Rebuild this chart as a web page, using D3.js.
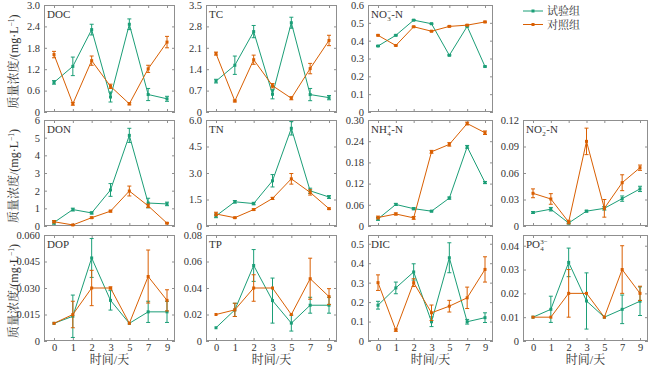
<!DOCTYPE html>
<html><head><meta charset="utf-8">
<script src="https://cdn.jsdelivr.net/npm/d3@7"></script>
<style>body{margin:0;background:#fff}svg{display:block}</style>
</head><body><svg id="c" width="650" height="367"></svg>
<script>
const days = ["0","1","2","3","5","7","9"];
const seriesNames = ["试验组","对照组"];
const colors = ["#1b9e77","#d95f02"];
const xLabel = "时间/天";

const docTest = [0.83,1.28,2.31,0.42,2.46,0.49,0.37];
const docTestErr = [0.05,0.26,0.15,0.14,0.15,0.17,0.07];
const docCtrl = [1.61,0.23,1.44,0.72,0.23,1.21,1.96];
const docCtrlErr = [0.09,0.04,0.13,0.06,0.03,0.1,0.16];
const docTicks = ["0","0.6","1.2","1.8","2.4","3.0"];

const tcTest = [1.01,1.53,2.63,0.58,2.92,0.57,0.47];
const tcTestErr = [0.06,0.3,0.2,0.15,0.18,0.2,0.07];
const tcCtrl = [1.91,0.36,1.71,0.86,0.45,1.42,2.34];
const tcCtrlErr = [0.05,0.03,0.15,0.07,0.05,0.17,0.17];
const tcTicks = ["0","0.7","1.4","2.1","2.8","3.5"];

const no3Test = [0.37,0.43,0.515,0.495,0.318,0.48,0.255];
const no3TestErr = [0.003,0.003,0.003,0.003,0.003,0.003,0.003];
const no3Ctrl = [0.43,0.373,0.478,0.453,0.48,0.487,0.505];
const no3CtrlErr = [0.003,0.003,0.003,0.003,0.003,0.003,0.004];
const no3Ticks = ["0","0.1","0.2","0.3","0.4","0.5","0.6"];

const donTest = [0.2,0.93,0.74,2.04,5.13,1.3,1.25];
const donTestErr = [0.1,0.08,0.06,0.36,0.4,0.27,0.1];
const donCtrl = [0.24,0.06,0.47,0.84,1.98,1.14,0.16];
const donCtrlErr = [0.06,0.02,0.04,0.05,0.28,0.1,0.03];
const donTicks = ["0","1","2","3","4","5","6"];

const tnTest = [0.57,1.37,1.27,2.56,5.53,1.99,1.64];
const tnTestErr = [0.1,0.07,0.07,0.35,0.38,0.15,0.08];
const tnCtrl = [0.68,0.47,0.93,1.56,2.67,1.9,0.98];
const tnCtrlErr = [0.1,0.03,0.04,0.06,0.3,0.15,0.04];
const tnTicks = ["0","1.5","3.0","4.5","6.0"];

const nh4Test = [0.02,0.061,0.049,0.042,0.079,0.224,0.123];
const nh4TestErr = [0.004,0.003,0.003,0.002,0.003,0.004,0.003];
const nh4Ctrl = [0.024,0.034,0.023,0.21,0.231,0.29,0.264];
const nh4CtrlErr = [0.004,0.003,0.004,0.004,0.005,0.004,0.005];
const nh4Ticks = ["0","0.06","0.12","0.18","0.24","0.30"];

const no2Test = [0.0153,0.019,0.0034,0.0168,0.02,0.031,0.042];
const no2TestErr = [0.001,0.002,0.001,0.001,0.002,0.003,0.003];
const no2Ctrl = [0.037,0.0306,0.0045,0.0958,0.02,0.049,0.066];
const no2CtrlErr = [0.005,0.006,0.002,0.015,0.01,0.009,0.003];
const no2Ticks = ["0","0.03","0.06","0.09","0.12"];

const dopTest = [0.01,0.014,0.047,0.023,0.01,0.0165,0.0165];
const dopTestErr = [0,0.012,0.011,0.0055,0,0.006,0.006];
const dopCtrl = [0.01,0.015,0.03,0.03,0.01,0.0365,0.023];
const dopCtrlErr = [0,0.0075,0.01,0.0006,0,0.015,0.006];
const dopTicks = ["0","0.015","0.030","0.045","0.060"];

const tpTest = [0.01,0.0235,0.057,0.0305,0.0135,0.027,0.027];
const tpTestErr = [0,0.005,0.012,0.017,0.006,0.006,0.006];
const tpCtrl = [0.02,0.0235,0.04,0.04,0.02,0.047,0.0335];
const tpCtrlErr = [0,0.005,0.01,0,0,0.0155,0.006];
const tpTicks = ["0","0.02","0.04","0.06","0.08"];

const dicTest = [0.184,0.273,0.355,0.099,0.428,0.099,0.12];
const dicTestErr = [0.02,0.03,0.042,0.025,0.077,0.012,0.025];
const dicCtrl = [0.30,0.056,0.30,0.145,0.179,0.222,0.368];
const dicCtrlErr = [0.04,0.006,0.02,0.04,0.03,0.055,0.065];
const dicTicks = ["0","0.1","0.2","0.3","0.4","0.5"];

const po4Test = [0.01,0.0133,0.033,0.0168,0.01,0.0133,0.0167];
const po4TestErr = [0,0.0055,0.006,0.0118,0,0.006,0.006];
const po4Ctrl = [0.01,0.01,0.02,0.02,0.01,0.03,0.02];
const po4CtrlErr = [0,0,0.01,0,0,0.01,0.003];
const po4Ticks = ["0","0.01","0.02","0.03","0.04"];

// panel table built from the arrays above
const panels = [
  {row:0,col:0,title:[["DOC"]],max:3.0,ticks:docTicks,s:[[docTest,docTestErr],[docCtrl,docCtrlErr]]},
  {row:0,col:1,title:[["TC"]],max:3.5,ticks:tcTicks,s:[[tcTest,tcTestErr],[tcCtrl,tcCtrlErr]]},
  {row:0,col:2,title:[["NO"],["3","−"],["-N"]],max:0.6,ticks:no3Ticks,s:[[no3Test,no3TestErr],[no3Ctrl,no3CtrlErr]]},
  {row:1,col:0,title:[["DON"]],max:6,ticks:donTicks,s:[[donTest,donTestErr],[donCtrl,donCtrlErr]]},
  {row:1,col:1,title:[["TN"]],max:6.0,ticks:tnTicks,s:[[tnTest,tnTestErr],[tnCtrl,tnCtrlErr]]},
  {row:1,col:2,title:[["NH"],["4","+"],["-N"]],max:0.30,ticks:nh4Ticks,s:[[nh4Test,nh4TestErr],[nh4Ctrl,nh4CtrlErr]]},
  {row:1,col:3,title:[["NO"],["2","−"],["-N"]],max:0.12,ticks:no2Ticks,s:[[no2Test,no2TestErr],[no2Ctrl,no2CtrlErr]]},
  {row:2,col:0,title:[["DOP"]],max:0.060,ticks:dopTicks,s:[[dopTest,dopTestErr],[dopCtrl,dopCtrlErr]]},
  {row:2,col:1,title:[["TP"]],max:0.08,ticks:tpTicks,s:[[tpTest,tpTestErr],[tpCtrl,tpCtrlErr]]},
  {row:2,col:2,title:[["DIC"]],max:0.545,ticks:dicTicks,s:[[dicTest,dicTestErr],[dicCtrl,dicCtrlErr]]},
  {row:2,col:3,title:[["PO"],["4","3−"]],max:0.0445,ticks:po4Ticks,s:[[po4Test,po4TestErr],[po4Ctrl,po4CtrlErr]]}
];

const colX = [[44,175],[206,337],[368,493],[523,648]];
const rowY = [[5,112],[120,226],[235,341]];
const serif = "'Liberation Serif','Times New Roman',serif";
const mixed = "'Liberation Serif','Noto Serif CJK SC','Noto Sans CJK SC',serif";
const frameColor = "#8f8f8f";
const txtColor = "#333";
const svg = d3.select("#c");

panels.forEach(p => {
  const [x0,x1] = colX[p.col], [y0,y1] = rowY[p.row];
  const x = d3.scalePoint().domain(days).range([x0+10, x1-8]);
  const y = d3.scaleLinear().domain([0,p.max]).range([y1,y0]);
  const g = svg.append("g");
  const tv = p.ticks.map(Number);
  const fmt = v => p.ticks[tv.indexOf(v)];

  const left = g.append("g").attr("transform",`translate(${x0},0)`)
    .call(d3.axisLeft(y).tickValues(tv).tickFormat(fmt).tickSizeInner(-3).tickSizeOuter(0).tickPadding(4));
  const right = g.append("g").attr("transform",`translate(${x1},0)`)
    .call(d3.axisRight(y).tickValues(tv).tickFormat("").tickSizeInner(-3).tickSizeOuter(0));
  const bottom = g.append("g").attr("transform",`translate(0,${y1})`)
    .call(d3.axisBottom(x).tickFormat(p.row===2? d=>d : "").tickSizeInner(-3).tickSizeOuter(0).tickPadding(3));
  const top = g.append("g").attr("transform",`translate(0,${y0})`)
    .call(d3.axisTop(x).tickFormat("").tickSizeInner(-3).tickSizeOuter(0));
  [left,right,bottom,top].forEach(a=>{
    a.select(".domain").remove();
    a.selectAll("line").attr("stroke",frameColor);
    a.selectAll("text").attr("font-family",serif).attr("font-size",10.5).attr("fill",txtColor);
  });
  g.append("rect").attr("x",x0+0.5).attr("y",y0+0.5).attr("width",x1-x0-1).attr("height",y1-y0-1)
    .attr("fill","none").attr("stroke",frameColor).attr("stroke-width",1);

  // title
  let tx = x0+3;
  const tg = g.append("g");
  p.title.forEach(seg=>{
    if(seg.length===1){
      const e = tg.append("text").attr("x",tx).attr("y",y0+13).attr("font-family",serif).attr("font-size",11).attr("fill",txtColor).text(seg[0]);
      tx += e.node().getComputedTextLength();
    } else {
      const a = tg.append("text").attr("x",tx+0.3).attr("y",y0+16).attr("font-family",serif).attr("font-size",7).attr("fill",txtColor).text(seg[0]);
      const b = tg.append("text").attr("x",tx+0.3).attr("y",y0+8.5).attr("font-family",serif).attr("font-size",7).attr("fill",txtColor).text(seg[1]);
      tx += Math.max(a.node().getComputedTextLength(), b.node().getComputedTextLength())+0.5;
    }
  });

  // series
  p.s.forEach((ser,si)=>{
    const [vals,errs] = ser;
    const c = colors[si];
    const pts = days.map((d,i)=>({d,v:vals[i],e:errs[i]}));
    const sg = g.append("g");
    sg.append("path").datum(pts).attr("fill","none").attr("stroke",c).attr("stroke-width",1)
      .attr("d",d3.line().x(q=>x(q.d)).y(q=>y(q.v)));
    const eb = sg.selectAll(".eb").data(pts.filter(q=>q.e>0)).join("g");
    eb.append("line").attr("x1",q=>x(q.d)).attr("x2",q=>x(q.d)).attr("y1",q=>y(q.v-q.e)).attr("y2",q=>y(q.v+q.e)).attr("stroke",c).attr("stroke-width",1);
    eb.append("line").attr("x1",q=>x(q.d)-2).attr("x2",q=>x(q.d)+2).attr("y1",q=>y(q.v-q.e)).attr("y2",q=>y(q.v-q.e)).attr("stroke",c).attr("stroke-width",1);
    eb.append("line").attr("x1",q=>x(q.d)-2).attr("x2",q=>x(q.d)+2).attr("y1",q=>y(q.v+q.e)).attr("y2",q=>y(q.v+q.e)).attr("stroke",c).attr("stroke-width",1);
    sg.selectAll("rect").data(pts).join("rect")
      .attr("x",q=>x(q.d)-1.5).attr("y",q=>y(q.v)-1.5).attr("width",3).attr("height",3).attr("fill",c);
  });

  if(p.row===2){
    g.append("text").attr("x",(x0+x1)/2).attr("y",364).attr("text-anchor","middle")
      .attr("font-family",mixed).attr("font-size",12).attr("fill",txtColor).text(xLabel);
  }
});

// y labels
rowY.forEach(([y0,y1])=>{
  const t = svg.append("text").attr("transform",`translate(18,${(y0+y1)/2+3}) rotate(-90)`)
    .attr("text-anchor","middle").attr("font-family",mixed).attr("font-size",12).attr("fill",txtColor);
  t.append("tspan").text("质量浓度/(mg·L");
  t.append("tspan").attr("dy",-4).attr("font-size",7.5).text("−1");
  t.append("tspan").attr("dy",4).text(")");
});

// legend
const lg = svg.append("g");
seriesNames.forEach((n,i)=>{
  const yy = 11 + i*13.5;
  lg.append("line").attr("x1",523).attr("x2",543).attr("y1",yy).attr("y2",yy).attr("stroke",colors[i]).attr("stroke-width",1);
  lg.append("rect").attr("x",531.5).attr("y",yy-1.5).attr("width",3).attr("height",3).attr("fill",colors[i]);
  lg.append("text").attr("x",547).attr("y",yy+4).attr("font-family",mixed).attr("font-size",11).attr("fill",txtColor).text(n);
});
</script></body></html>
